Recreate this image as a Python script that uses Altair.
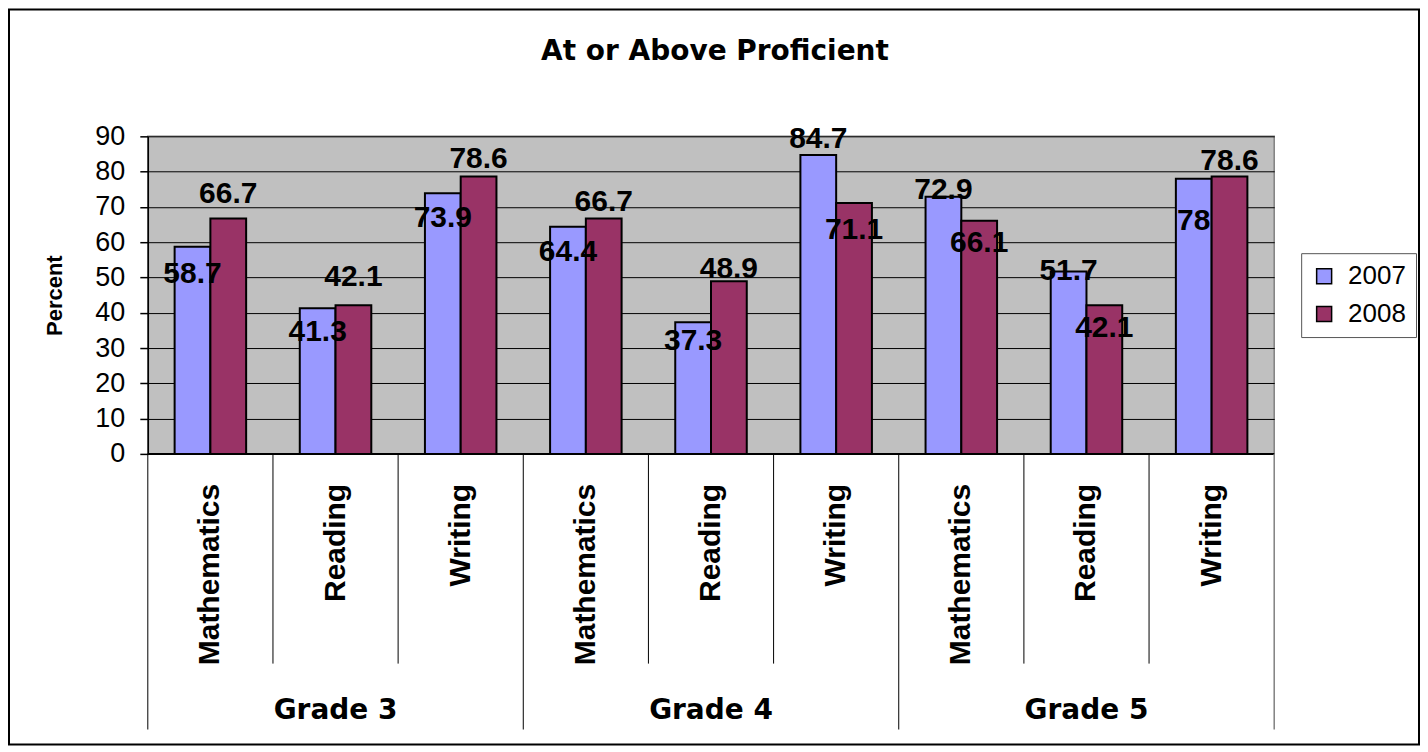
import altair as alt
import pandas as pd

# ---------------- data ----------------
grades = ["Grade 3", "Grade 4", "Grade 5"]
subjects = ["Mathematics", "Reading", "Writing"]
years = ["2007", "2008"]
values_2007 = [58.7, 41.3, 73.9, 64.4, 37.3, 84.7, 72.9, 51.7, 78.0]
values_2008 = [66.7, 42.1, 78.6, 66.7, 48.9, 71.1, 66.1, 42.1, 78.6]
labels_2007 = ["58.7", "41.3", "73.9", "64.4", "37.3", "84.7", "72.9", "51.7", "78"]
labels_2008 = ["66.7", "42.1", "78.6", "66.7", "48.9", "71.1", "66.1", "42.1", "78.6"]
# where Excel put each data label, relative to the bar top (pixels, + = below)
label_dy_2007 = [27, 24, 25, 25, 19, -16, -7, 0, 42]
label_dy_2008 = [-25, -28, -18, -17, -12, 27, 22, 23, -16]
y_ticks = [0, 10, 20, 30, 40, 50, 60, 70, 80, 90]
series_colors = ["#9999FF", "#993366"]
title_text = "At or Above Proficient"
y_title = "Percent"

# ---------------- tables ----------------
cats = [f"{g}|{s}" for g in grades for s in subjects]
rows = []
for i, cat in enumerate(cats):
    g, s = cat.split("|")
    rows.append(dict(cat=cat, grade=g, subject=s, year="2007",
                     value=values_2007[i], label=labels_2007[i], dy=label_dy_2007[i]))
    rows.append(dict(cat=cat, grade=g, subject=s, year="2008",
                     value=values_2008[i], label=labels_2008[i], dy=label_dy_2008[i]))
df = pd.DataFrame(rows)
cat_df = pd.DataFrame(dict(cat=cats,
                           subject=[c.split("|")[1] for c in cats],
                           first=[c.split("|")[1] == subjects[0] for c in cats]))
grade_df = pd.DataFrame(dict(cat=[f"{g}|{subjects[1]}" for g in grades], grade=grades))
last_df = pd.DataFrame(dict(cat=[cats[-1]]))
one_df = pd.DataFrame(dict(a=[0]))

W, H = 1128, 318
ARIAL = "Liberation Sans"

x_scale = alt.Scale(domain=cats, paddingInner=0, paddingOuter=0)
y_scale = alt.Scale(domain=[0, 90], nice=False, zero=True)
xoff_scale = alt.Scale(domain=years, paddingInner=0, paddingOuter=0.75)

y_axis = alt.Axis(values=y_ticks, grid=True, gridColor="black", gridWidth=1,
                  domainColor="black", domainWidth=1.5,
                  tickColor="black", tickSize=8, tickWidth=1.5,
                  labelFont=ARIAL, labelFontSize=27, labelColor="black",
                  labelPadding=15, labelOverlap=False, labelFlush=False,
                  title=y_title, titleFont=ARIAL, titleFontSize=22,
                  titleFontWeight="bold", titleColor="black",
                  titleAngle=270, titleAlign="center", titleBaseline="middle",
                  titleX=-93, titleY=159)

bars = alt.Chart(df).mark_bar(stroke="black", strokeWidth=2).encode(
    x=alt.X("cat:N", scale=x_scale, sort=cats, axis=None),
    xOffset=alt.XOffset("year:N", scale=xoff_scale, sort=years),
    y=alt.Y("value:Q", scale=y_scale, axis=y_axis),
    color=alt.Color("year:N", scale=alt.Scale(domain=years, range=series_colors),
                    legend=alt.Legend(orient="none", legendX=1155, legendY=117,
                                      title=None, symbolType="square", symbolSize=225,
                                      symbolStrokeColor="black", symbolStrokeWidth=1.5,
                                      symbolOpacity=1,
                                      labelFont=ARIAL, labelFontSize=26, labelColor="black",
                                      labelOffset=11, padding=10, rowPadding=12,
                                      fillColor="white", strokeColor="#555555")),
)

value_labels = alt.Chart(df).transform_calculate(
    label_val=f"datum.value - datum.dy * 90 / {H}"
).mark_text(font=ARIAL, fontSize=30, fontWeight="bold", color="black",
            align="center", baseline="middle").encode(
    x=alt.X("cat:N", scale=x_scale, sort=cats, axis=None),
    xOffset=alt.XOffset("year:N", scale=xoff_scale, sort=years),
    y=alt.Y("label_val:Q", scale=y_scale, axis=y_axis),
    text="label:N",
)

base_line = alt.Chart(one_df).mark_rule(color="black", strokeWidth=2).encode(
    x=alt.value(0), x2=alt.value(W), y=alt.value(H))

sub_edges = alt.Chart(cat_df).transform_filter("!datum.first").mark_rule(
    color="black", strokeWidth=1).encode(
    x=alt.X("cat:N", scale=x_scale, sort=cats, axis=None, bandPosition=0),
    y=alt.value(H), y2=alt.value(528))

grade_edges = alt.Chart(cat_df).transform_filter("datum.first").mark_rule(
    color="black", strokeWidth=1).encode(
    x=alt.X("cat:N", scale=x_scale, sort=cats, axis=None, bandPosition=0),
    y=alt.value(H), y2=alt.value(594))

end_edge = alt.Chart(last_df).mark_rule(color="#808080", strokeWidth=1.5).encode(
    x=alt.X("cat:N", scale=x_scale, sort=cats, axis=None, bandPosition=1),
    y=alt.value(H), y2=alt.value(594))

subject_labels = alt.Chart(cat_df).mark_text(
    font=ARIAL, fontSize=30, fontWeight="bold", color="black",
    angle=270, align="right", baseline="middle", dx=-5).encode(
    x=alt.X("cat:N", scale=x_scale, sort=cats, axis=None),
    y=alt.value(343),
    text="subject:N")

grade_labels = alt.Chart(grade_df).mark_text(
    font="DejaVu Sans", fontSize=28, fontWeight="bold", color="black",
    align="center", baseline="middle").encode(
    x=alt.X("cat:N", scale=x_scale, sort=cats, axis=None),
    y=alt.value(575),
    text="grade:N")

title = alt.Chart(one_df).transform_calculate(t=f"'{title_text}'").mark_text(
    font="DejaVu Sans", fontSize=28, fontWeight="bold", color="black",
    align="center", baseline="alphabetic").encode(
    x=alt.value(568), y=alt.value(-76), text="t:N")

frame = alt.Chart(one_df).mark_rect(filled=False, stroke="black", strokeWidth=2).encode(
    x=alt.value(-139), x2=alt.value(1273), y=alt.value(-127), y2=alt.value(609))

chart = alt.layer(
    bars, value_labels, base_line, sub_edges, grade_edges, end_edge,
    subject_labels, grade_labels, title, frame
).properties(
    width=W, height=H,
    autosize=alt.AutoSizeParams(type="none"),
    padding={"left": 140, "top": 128, "right": 146, "bottom": 294},
    background="white",
).configure_view(
    fill="#C0C0C0", stroke="#808080", strokeWidth=1.5
)

chart.save("out.html", embed_options={"renderer": "svg", "actions": False})
